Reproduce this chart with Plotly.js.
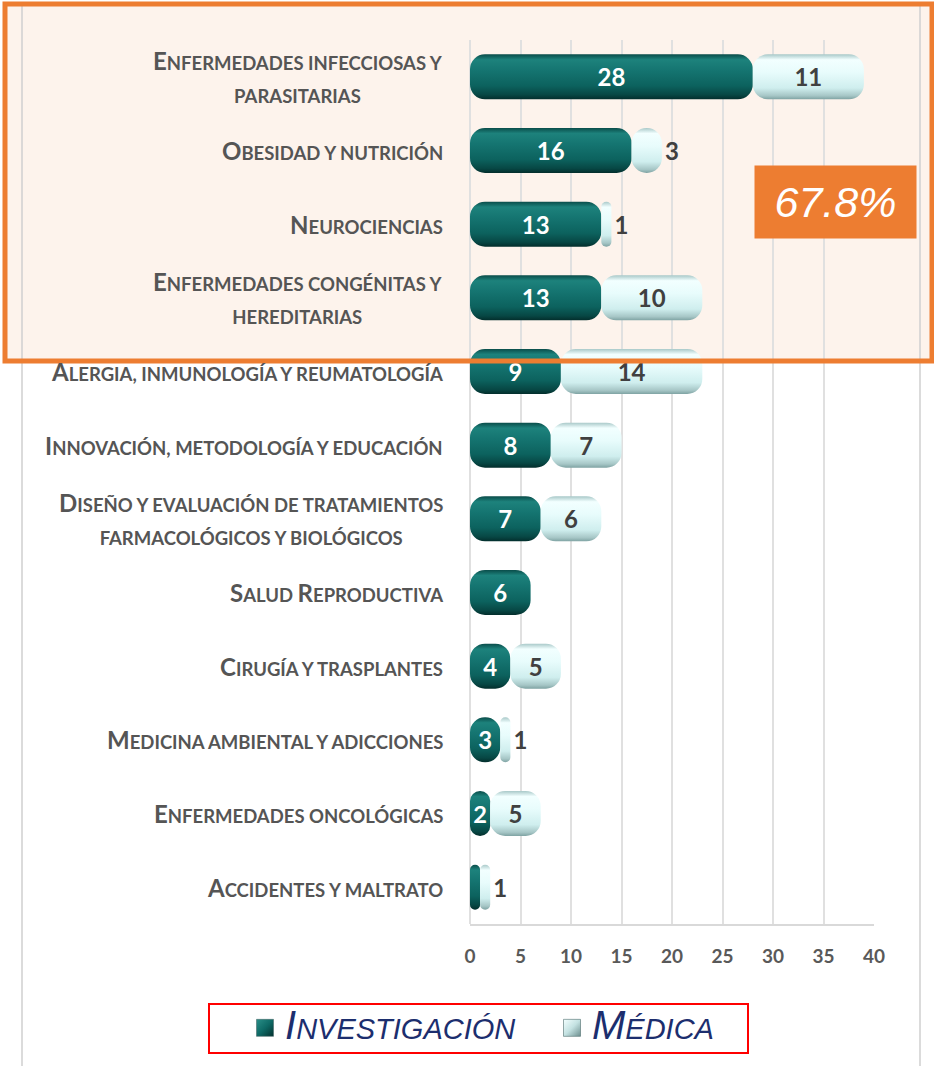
<!DOCTYPE html>
<html>
<head>
<meta charset="utf-8">
<script src="https://cdn.plot.ly/plotly-3.0.1.min.js"></script>
<style>html,body{margin:0;padding:0;background:#fff;}#chart{width:934px;height:1066px;}</style>
</head>
<body>
<div id="chart"></div>
<script>
// ---- data ----
var categories = [
  "Enfermedades infecciosas y|parasitarias",
  "Obesidad y nutrición",
  "Neurociencias",
  "Enfermedades congénitas y|hereditarias",
  "Alergia, inmunología y reumatología",
  "Innovación, metodología y educación",
  "Diseño y evaluación de tratamientos|farmacológicos y biológicos",
  "Salud Reproductiva",
  "Cirugía y trasplantes",
  "Medicina ambiental y adicciones",
  "Enfermedades oncológicas",
  "Accidentes y maltrato"
];
var investigacion = [28, 16, 13, 13, 9, 8, 7, 6, 4, 3, 2, 1];
var medica        = [11, 3, 1, 10, 14, 7, 6, 0, 5, 1, 5, 1];
var seriesNames = ["Investigación", "Médica"];
var highlightLabel = "67.8%";
var xTicks = [0, 5, 10, 15, 20, 25, 30, 35, 40];

// ---- helpers ----
function smallCaps(line, big, small) {
  var out = '', buf = '';
  function flush() {
    if (buf) { out += '<span style="font-size:' + small + 'px">' + buf + '</span>'; buf = ''; }
  }
  for (var ch of line) {
    if (ch !== ch.toLowerCase()) { flush(); out += '<span style="font-size:' + big + 'px">' + ch + '</span>'; }
    else buf += ch.toUpperCase();
  }
  flush();
  return out;
}

var W = 0.61, R = 15;
var labelFont = { family: 'Lato', size: 24, weight: 700 };

var data = [
  { type: 'bar', orientation: 'h', y: categories, x: investigacion, base: 0, width: W, hoverinfo: 'skip',
    name: smallCaps(seriesNames[0], 40, 29), legend: 'legend',
    marker: { color: '#0e6a66', cornerradius: R, line: { width: 0 } },
    text: investigacion.map(function (v) { return v >= 2 ? String(v) : ''; }),
    textposition: 'inside', insidetextanchor: 'middle', constraintext: 'none',
    insidetextfont: Object.assign({ color: '#ffffff' }, labelFont) },
  { type: 'bar', orientation: 'h', y: categories, x: medica, base: investigacion, width: W, hoverinfo: 'skip',
    name: smallCaps(seriesNames[1], 40, 29), legend: 'legend2',
    marker: { color: '#d6f3f3', cornerradius: R, line: { width: 0 } },
    text: medica.map(function (v) { return v > 0 ? String(v) : ''; }),
    textposition: medica.map(function (v) { return v <= 3 ? 'outside' : 'inside'; }),
    insidetextanchor: 'middle', constraintext: 'none', cliponaxis: false,
    insidetextfont: Object.assign({ color: '#404040' }, labelFont),
    outsidetextfont: Object.assign({ color: '#404040' }, labelFont) }
];

// plot area in px: x 470..874, y 40..924
function px2x(p) { return (p - 470) / 404; }
function py2y(p) { return (924 - p) / 884; }

var annotations = categories.map(function (c) {
  var lines = c.split('|').map(function (l) { return smallCaps(l, 24, 18.5); });
  return { xref: 'paper', yref: 'y', x: 0, y: c, xanchor: 'right', yanchor: 'middle', xshift: -25,
    text: lines.join('<br>'), align: 'center', showarrow: false,
    font: { family: 'Lato', size: 25, color: '#555555', weight: 700 } };
});
annotations.push({ xref: 'paper', yref: 'paper', x: px2x(835.5), y: py2y(202), xanchor: 'center', yanchor: 'middle',
  text: '<i>' + highlightLabel + '</i>', showarrow: false, width: 161, height: 72, borderpad: 0,
  bgcolor: '#ED7D31', font: { family: 'Liberation Sans', size: 43, color: '#ffffff' } });

var shapes = [
  { type: 'rect', xref: 'paper', yref: 'paper', x0: px2x(5), x1: px2x(932), y0: py2y(361), y1: py2y(4),
    fillcolor: 'rgba(237,125,49,0.09)', line: { width: 0 }, layer: 'below' },
  { type: 'rect', xref: 'paper', yref: 'paper', x0: px2x(22), x1: px2x(920), y0: py2y(1075), y1: py2y(3),
    line: { color: '#d0d0d0', width: 1.5 }, layer: 'above' },
  { type: 'rect', xref: 'paper', yref: 'paper', x0: px2x(5), x1: px2x(932), y0: py2y(361), y1: py2y(4),
    line: { color: '#ED7D31', width: 5 }, layer: 'above' },
  { type: 'rect', xref: 'paper', yref: 'paper', x0: px2x(209), x1: px2x(748), y0: py2y(1053), y1: py2y(1004),
    line: { color: '#ff0000', width: 2 }, layer: 'above' }
];

var legendFont = { family: 'Liberation Sans', size: 29, color: '#1c2e6e', style: 'italic' };
var layout = {
  width: 934, height: 1066,
  margin: { l: 470, r: 60, t: 40, b: 142 },
  paper_bgcolor: '#ffffff', plot_bgcolor: 'rgba(0,0,0,0)',
  barmode: 'overlay',
  showlegend: true,
  legend: { orientation: 'h', xref: 'container', yref: 'container', x: 245 / 934, y: 1 - 1028 / 1066,
    xanchor: 'left', yanchor: 'middle', bgcolor: 'rgba(0,0,0,0)', font: legendFont },
  legend2: { orientation: 'h', xref: 'container', yref: 'container', x: 552 / 934, y: 1 - 1028 / 1066,
    xanchor: 'left', yanchor: 'middle', bgcolor: 'rgba(0,0,0,0)', font: legendFont },
  xaxis: { range: [0, 40], tickvals: xTicks, ticktext: xTicks.map(String), showgrid: true, gridcolor: '#e0e0e0', gridwidth: 2,
    zeroline: true, zerolinecolor: '#e0e0e0', zerolinewidth: 2, showline: true, linecolor: '#d9d9d9', linewidth: 2,
    ticks: '', ticklabelstandoff: 14, fixedrange: true,
    tickfont: { family: 'Lato', size: 19, color: '#595959', weight: 700 } },
  yaxis: { type: 'category', range: [11.5, -0.5], showticklabels: false, showgrid: false, zeroline: false, showline: false, ticks: '' },
  annotations: annotations,
  shapes: shapes
};

var gd = document.getElementById('chart');
Plotly.newPlot(gd, data, layout, { staticPlot: true, displayModeBar: false }).then(function () {
  var svg = gd.querySelector('svg.main-svg');
  var defs = svg.querySelector('defs');
  var ns = 'http://www.w3.org/2000/svg';
  function grad(id, stops, vertical) {
    var g = document.createElementNS(ns, 'linearGradient');
    g.setAttribute('id', id); g.setAttribute('x1', '0'); g.setAttribute('y1', '0');
    g.setAttribute('x2', vertical ? '0' : '1'); g.setAttribute('y2', '1');
    stops.forEach(function (s) {
      var st = document.createElementNS(ns, 'stop');
      st.setAttribute('offset', s[0]); st.setAttribute('stop-color', s[1]); g.appendChild(st);
    });
    defs.appendChild(g);
  }
  grad('gDark', [[0, '#0a4d4a'], [0.12, '#1d827c'], [0.35, '#157571'], [0.7, '#0c625e'], [0.9, '#074744'], [1, '#032e2c']], true);
  grad('gLight', [[0, '#a9c9c9'], [0.12, '#f2ffff'], [0.4, '#e8fcfc'], [0.75, '#cfeeee'], [0.92, '#a6c6c6'], [1, '#7fa3a3']], true);
  grad('gLegDark', [[0, '#2a8f88'], [0.5, '#0e6a66'], [1, '#03302e']], false);
  grad('gLegLight', [[0, '#f4ffff'], [0.5, '#c4e2e2'], [1, '#6d8f8f']], false);
  var traces = gd.querySelectorAll('.barlayer .trace');
  traces.forEach(function (t, i) {
    var id = i === 0 ? 'gDark' : 'gLight';
    t.querySelectorAll('path').forEach(function (p) { p.style.fill = 'url(#' + id + ')'; });
  });
  var legIds = ['gLegDark', 'gLegLight'];
  gd.querySelectorAll('.legendpoints path').forEach(function (p, i) {
    p.setAttribute('d', 'M8.5,8.5H-8.5V-8.5H8.5Z');
    p.style.fill = 'url(#' + legIds[i % 2] + ')';
    p.style.stroke = '#4d6b6b'; p.style.strokeWidth = '0.6px';
  });
});
</script>
</body>
</html>
